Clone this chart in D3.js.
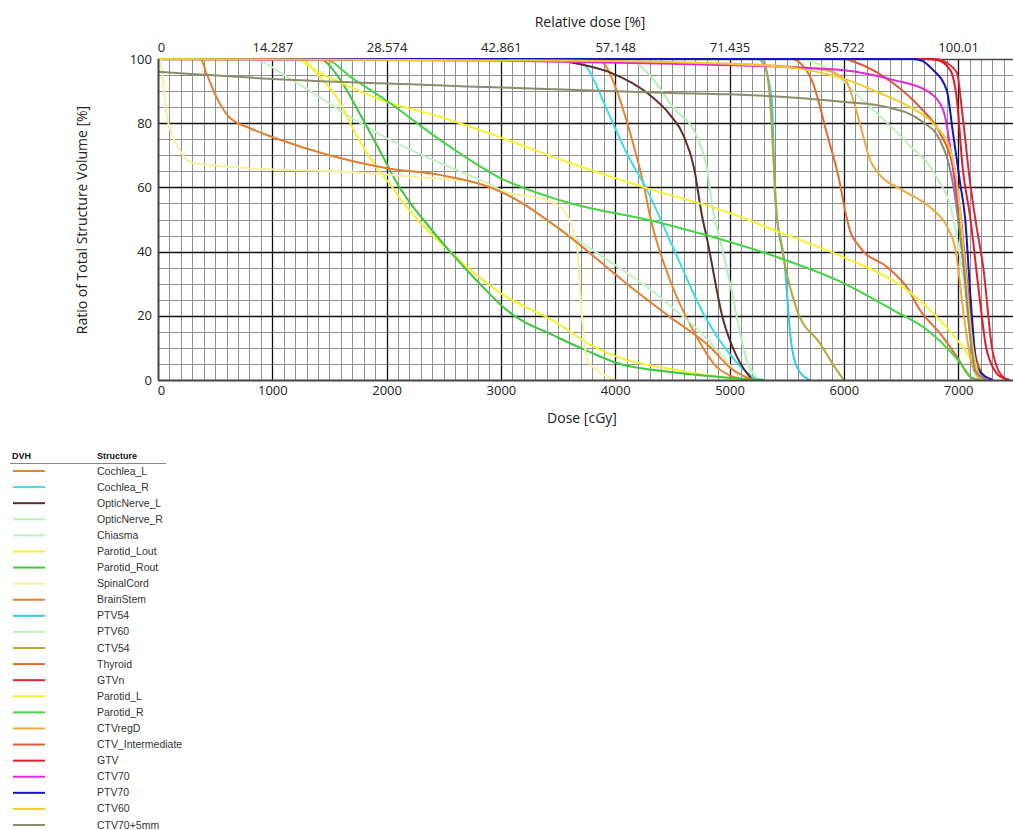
<!DOCTYPE html>
<html>
<head>
<meta charset="utf-8">
<script src="https://cdn.jsdelivr.net/npm/d3@7"></script>
<style>
  body { margin: 0; background: #fff; }
  svg { display: block; }
</style>
</head>
<body>
<div id="my_dataviz"></div>
<script>
// structures as shown in the legend, in legend order
var structures = ["Cochlea_L", "Cochlea_R", "OpticNerve_L", "OpticNerve_R", "Chiasma", "Parotid_Lout",
  "Parotid_Rout", "SpinalCord", "BrainStem", "PTV54", "PTV60", "CTV54", "Thyroid", "GTVn", "Parotid_L",
  "Parotid_R", "CTVregD", "CTV_Intermediate", "GTV", "CTV70", "PTV70", "CTV60", "CTV70+5mm"];

var colors = ["#e8842c", "#3cdcea", "#5b2d2d", "#b4f0b4", "#c4f0c4", "#f4f030",
  "#3cc83c", "#f8f0a0", "#e08030", "#38c8e8", "#c0f0c0", "#b4a838", "#e06c30", "#d82838", "#f4f430",
  "#44d444", "#f0a83c", "#d85838", "#e01c2c", "#e028e0", "#1414c0", "#f4cc28", "#8c8c6c"];

// [dose cGy, volume %]
var cochleaL = [[0,100],[3800,100],[3895,98.8],[4015,90],[4130,77],[4245,61.4],[4305,51],[4480,31],[4680,15.6],[4890,4],[5030,1],[5150,0]];
var cochleaR = [[0,100],[3650,100],[3750,97.5],[3930,84],[4100,70.7],[4280,59],[4505,41.4],[4770,20.8],[4975,9.3],[5205,1],[5300,0]];
var opticNerveL = [[0,100],[3450,100],[3605,99],[3970,95.6],[4280,89.4],[4480,82.6],[4600,76],[4690,66],[4760,51],[4800,44.5],[4945,18.7],[5065,7.2],[5200,0]];
var opticNerveR = [[0,100],[4100,100],[4300,95],[4505,85],[4715,75.7],[4800,66.4],[4855,53],[4930,42],[5005,30],[5150,6.2],[5250,0]];
var chiasma = [[0,100],[800,100],[1215,92.5],[1680,82],[2030,74.8],[2467,67.6],[3010,59],[3400,50],[3840,39.6],[4420,25],[4945,7.2],[5100,0]];
var parotidLout = [[0,100],[1250,100],[1400,95],[1566,88],[1740,76],[1915,66],[2030,61],[2150,55],[2270,50],[2555,40],[3000,27],[3490,17.8],[3780,11],[4015,7.2],[4565,3],[5000,0.5],[5100,0]];
var parotidRout = [[0,100],[1420,100],[1566,95],[1795,81],[1970,69.5],[2090,61.4],[2230,54],[2320,50],[2555,40],[2815,30],[3050,21.8],[3490,13.4],[3780,8.7],[4015,5.3],[4565,2.2],[5300,0]];
var spinalCord = [[0,100],[17,99.7],[79,82],[192,71.6],[306,67.6],[805,66],[1680,64.8],[2265,63.2],[2755,61.7],[3100,58],[3400,56],[3545,53],[3665,41.4],[3710,19.6],[3755,6.2],[3840,3],[4000,0]];
var brainStem = [[0,100],[370,100],[430,95],[520,87.5],[620,82],[800,78.5],[1000,75.7],[1500,70],[2000,66],[2467,63.9],[3000,58.6],[3140,56],[3605,44.5],[4100,30],[4480,19.6],[4830,10.3],[5000,4],[5200,0]];
var ptv54 = [[0,100],[5250,100],[5295,98.5],[5370,87],[5400,56],[5485,35.2],[5530,14.6],[5590,4],[5700,0]];
var ptv60 = [[0,100],[5600,100],[5900,96],[6170,87],[6550,74],[6815,63],[6955,51],[7050,30],[7120,10],[7200,0]];
var ctv54 = [[0,100],[5250,100],[5295,99.7],[5355,87],[5380,71.6],[5415,50.8],[5460,40.5],[5590,21.8],[5790,11.5],[5940,3],[6000,0]];
var thyroid = [[0,100],[5550,100],[5615,98.8],[5730,92.5],[5850,77],[5965,61.4],[6010,53],[6050,47],[6140,41.4],[6378,35.2],[6550,29],[6665,21.8],[6840,14.6],[6990,7.2],[7105,1],[7200,0]];
var gtvn = [[0,100],[6800,100],[6900,98.8],[6990,95.6],[7040,82],[7105,61.4],[7160,48],[7220,35],[7300,9.3],[7390,1],[7450,0]];
var parotidL = [[0,100],[1200,100],[1400,96],[1700,91],[1970,87],[2467,82],[3010,75.4],[3605,67.6],[4245,60.1],[5005,52],[5440,46],[5995,38.3],[6490,29.6],[6780,20.9],[7040,10.3],[7220,1],[7300,0]];
var parotidR = [[0,100],[1450,100],[1700,94],[2000,87],[2467,74.8],[2990,63],[3517,56],[4390,49],[5415,38.3],[5995,30.2],[6430,21.8],[6730,15.6],[7000,6.2],[7130,0.5],[7200,0]];
var ctvRegD = [[0,100],[3000,99.5],[5000,98.5],[5850,96.5],[5950,95],[6030,92.5],[6140,80],[6230,68.5],[6315,63.9],[6520,59],[6780,53],[6900,48],[6980,40],[7050,20],[7120,5],[7200,0]];
var ctvInter = [[0,100],[6000,100],[6100,99],[6430,92.5],[6665,85],[6840,77],[6955,66.4],[7017,53],[7080,30],[7150,8],[7250,0]];
var gtv = [[0,100],[6700,100],[6815,99.7],[6930,96.6],[6990,87],[7040,66],[7105,50.8],[7190,25],[7250,9.3],[7370,1],[7450,0]];
var ctv70 = [[0,100],[3000,99.5],[4500,98.5],[5500,97.5],[6000,96.5],[6430,93.5],[6730,90],[6870,84],[6955,66],[7050,35],[7120,12],[7200,2],[7300,0]];
var ptv70 = [[0,100],[6600,100],[6665,99.7],[6780,96.6],[6900,90.3],[6955,77],[7017,61.4],[7060,50.8],[7110,25],[7165,4],[7300,0]];
var ctv60 = [[0,100],[3500,99.5],[5000,98.5],[5600,97],[6030,93.5],[6315,89.4],[6580,85],[6780,80],[6930,71.6],[6990,61.4],[7060,35],[7130,10],[7200,1],[7260,0]];
var ctv70p5 = [[0,96],[1000,93.8],[2380,91.9],[4480,89.4],[5000,89],[6010,86.6],[6378,85],[6690,80.4],[6840,74.8],[6955,61],[7000,50],[7050,35],[7100,15],[7150,3],[7250,0]];

var curves = [cochleaL, cochleaR, opticNerveL, opticNerveR, chiasma, parotidLout, parotidRout, spinalCord,
  brainStem, ptv54, ptv60, ctv54, thyroid, gtvn, parotidL, parotidR, ctvRegD, ctvInter, gtv, ctv70, ptv70, ctv60, ctv70p5];

var doseTicks = [0, 1000, 2000, 3000, 4000, 5000, 6000, 7000];
var relTicks = ["0", "14.287", "28.574", "42.861", "57.148", "71.435", "85.722", "100.01"];
var volTicks = [0, 20, 40, 60, 80, 100];

var W = 1013, H = 830;
var pLeft = 158, pRight = 1013, pTop = 59, pBottom = 380;
var doseMax = 7480;

var svg = d3.select("#my_dataviz")
  .append("svg")
  .attr("width", W)
  .attr("height", H);

var x = d3.scaleLinear().domain([0, doseMax]).range([pLeft, pRight]);
var xRel = d3.scaleLinear().domain([0, doseMax / 69.993]).range([pLeft, pRight]);
var y = d3.scaleLinear().domain([0, 100]).range([pBottom, pTop]);

var font = "'Open Sans', 'Noto Sans', sans-serif";

// minor grid
var g = svg.append("g");
g.selectAll("line.vminor")
  .data(d3.range(100, doseMax, 100))
  .enter().append("line")
  .attr("x1", d => Math.round(x(d)) + 0.5).attr("x2", d => Math.round(x(d)) + 0.5)
  .attr("y1", pTop).attr("y2", pBottom)
  .attr("stroke", "#8e8e8e").attr("stroke-width", 1);
g.selectAll("line.hminor")
  .data(d3.range(5, 100, 5))
  .enter().append("line")
  .attr("y1", d => Math.round(y(d)) + 0.5).attr("y2", d => Math.round(y(d)) + 0.5)
  .attr("x1", pLeft).attr("x2", pRight)
  .attr("stroke", "#8e8e8e").attr("stroke-width", 1);

// major grid
g.selectAll("line.vmajor")
  .data(doseTicks.slice(1))
  .enter().append("line")
  .attr("x1", d => Math.round(x(d)) + 0.5).attr("x2", d => Math.round(x(d)) + 0.5)
  .attr("y1", pTop).attr("y2", pBottom)
  .attr("stroke", "#111").attr("stroke-width", 1.3);
g.selectAll("line.hmajor")
  .data(volTicks.slice(1, 5))
  .enter().append("line")
  .attr("y1", d => Math.round(y(d)) + 0.5).attr("y2", d => Math.round(y(d)) + 0.5)
  .attr("x1", pLeft).attr("x2", pRight)
  .attr("stroke", "#111").attr("stroke-width", 1.3);

// frame top
svg.append("line").attr("x1", pLeft).attr("x2", pRight).attr("y1", pTop + 0.5).attr("y2", pTop + 0.5)
  .attr("stroke", "#444").attr("stroke-width", 1.5);

// DVH curves
var line = d3.line()
  .x(d => x(d[0]))
  .y(d => y(d[1]))
  .curve(d3.curveMonotoneX);

svg.append("g").selectAll("path")
  .data(curves)
  .enter().append("path")
  .attr("d", line)
  .attr("fill", "none")
  .attr("stroke", (d, i) => colors[i])
  .attr("stroke-width", 2)
  .attr("stroke-linejoin", "round");

svg.append("line").attr("x1", pLeft).attr("x2", pRight).attr("y1", pBottom + 0.5).attr("y2", pBottom + 0.5)
  .attr("stroke", "#444").attr("stroke-width", 2);
svg.append("line").attr("x1", pLeft + 0.5).attr("x2", pLeft + 0.5).attr("y1", pTop).attr("y2", pBottom)
  .attr("stroke", "#444").attr("stroke-width", 2);

// axes (labels only, the grid does the ticks)
var xAxis = d3.axisBottom(x).tickValues(doseTicks).tickSize(0).tickPadding(6).tickFormat(d3.format("d"));
svg.append("g").attr("transform", "translate(0," + pBottom + ")").call(xAxis)
  .call(a => a.select(".domain").remove())
  .selectAll("text").attr("font-family", font).attr("font-size", 13).attr("fill", "#222")
  .attr("dx", (d, i) => i == 0 ? 3 : 0);

var topAxis = d3.axisTop(xRel).tickValues(relTicks.map(Number)).tickSize(0).tickPadding(7)
  .tickFormat((d, i) => relTicks[i]);
svg.append("g").attr("transform", "translate(0," + pTop + ")").call(topAxis)
  .call(a => a.select(".domain").remove())
  .selectAll("text").attr("font-family", font).attr("font-size", 13).attr("fill", "#222")
  .attr("dx", (d, i) => i == 0 ? 3 : 0);

var yAxis = d3.axisLeft(y).tickValues(volTicks).tickSize(0).tickPadding(6);
svg.append("g").attr("transform", "translate(" + pLeft + ",0)").call(yAxis)
  .call(a => a.select(".domain").remove())
  .selectAll("text").attr("font-family", font).attr("font-size", 13).attr("fill", "#222");

svg.append("text").attr("x", 590).attr("y", 27).attr("text-anchor", "middle")
  .attr("font-family", font).attr("font-size", 14).attr("fill", "#222").text("Relative dose [%]");
svg.append("text").attr("x", 582).attr("y", 423).attr("text-anchor", "middle")
  .attr("font-family", font).attr("font-size", 14).attr("fill", "#222").text("Dose [cGy]");
svg.append("text").attr("transform", "translate(87,220) rotate(-90)").attr("text-anchor", "middle")
  .attr("font-family", font).attr("font-size", 14).attr("fill", "#222").text("Ratio of Total Structure Volume [%]");

// legend table
var lf = "'Liberation Sans', Arial, sans-serif";
var lg = svg.append("g");
lg.append("text").attr("x", 12).attr("y", 459).attr("font-family", lf).attr("font-size", 9)
  .attr("font-weight", "bold").attr("fill", "#111").text("DVH");
lg.append("text").attr("x", 97).attr("y", 459).attr("font-family", lf).attr("font-size", 9)
  .attr("font-weight", "bold").attr("fill", "#111").text("Structure");
lg.append("line").attr("x1", 10).attr("x2", 166).attr("y1", 463.5).attr("y2", 463.5)
  .attr("stroke", "#888").attr("stroke-width", 1);

var ly = d3.scaleLinear().domain([0, structures.length - 1]).range([471, 825]);
var rows = lg.selectAll("g.row").data(structures).enter().append("g")
  .attr("transform", (d, i) => "translate(0," + ly(i) + ")");
rows.append("line").attr("x1", 13).attr("x2", 45).attr("y1", 0).attr("y2", 0)
  .attr("stroke", (d, i) => colors[i]).attr("stroke-width", 2);
rows.append("text").attr("x", 97).attr("y", 3.5).attr("font-family", lf).attr("font-size", 10.5)
  .attr("fill", "#333").text(d => d);
</script>
</body>
</html>
